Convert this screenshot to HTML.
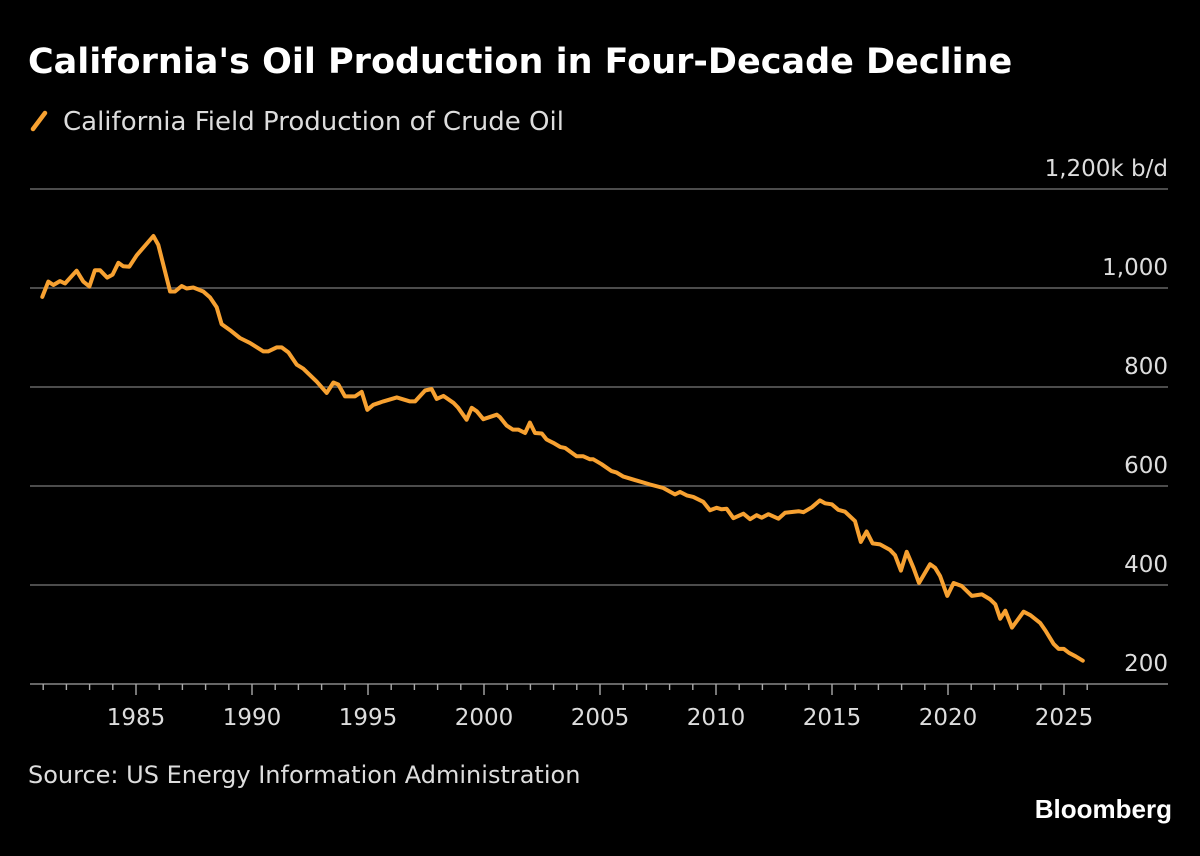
<!DOCTYPE html>
<html><head><meta charset="utf-8">
<style>
html,body{margin:0;padding:0;background:#000;}
body{width:1200px;height:851px;overflow:hidden;font-family:"Liberation Sans","DejaVu Sans",sans-serif;}
svg text{font-family:"DejaVu Sans","Liberation Sans",sans-serif;}
</style></head>
<body>
<svg id="chart" width="1200" height="851" viewBox="0 0 1200 851" xmlns="http://www.w3.org/2000/svg">
  <text x="28" y="73" fill="#fff" font-size="35" font-weight="bold">California's Oil Production in Four-Decade Decline</text>
  <g>
    <line x1="33" y1="129" x2="45" y2="113" stroke="#f7a131" stroke-width="4.5" stroke-linecap="round"/>
    <text x="63" y="130" fill="#ddd" font-size="26">California Field Production of Crude Oil</text>
  </g>
  <g id="grid"></g>
  <g id="xaxis"></g>
  <g id="series"></g>
  <text x="28" y="783" fill="#ddd" font-size="24">Source: US Energy Information Administration</text>
  <text x="1172" y="818" fill="#fff" font-size="26" font-weight="bold" text-anchor="end" style="font-family:'Liberation Sans',sans-serif">Bloomberg</text>
</svg>
<script>
const yTicks = [200, 400, 600, 800, 1000, 1200];
const yTickLabels = ["200", "400", "600", "800", "1,000", "1,200k b/d"];
const xMajorYears = [1985, 1990, 1995, 2000, 2005, 2010, 2015, 2020, 2025];
const years = [1980.96,1981.22,1981.44,1981.72,1981.94,1982.44,1982.73,1982.99,1983.23,1983.45,1983.76,1983.99,1984.24,1984.45,1984.71,1985.03,1985.75,1985.96,1986.47,1986.68,1986.97,1987.18,1987.47,1987.90,1988.19,1988.48,1988.69,1989.05,1989.48,1989.91,1990.49,1990.70,1991.06,1991.28,1991.57,1991.93,1992.21,1992.79,1993.22,1993.51,1993.72,1994.01,1994.44,1994.73,1994.97,1995.23,1995.66,1996.24,1996.81,1997.03,1997.46,1997.74,1997.96,1998.25,1998.68,1998.89,1999.25,1999.47,1999.69,1999.97,2000.55,2000.69,2000.98,2001.24,2001.48,2001.77,2001.98,2002.20,2002.49,2002.70,2002.99,2003.28,2003.49,2003.99,2004.28,2004.57,2004.71,2005.07,2005.50,2005.72,2006.01,2006.58,2007.16,2007.73,2008.23,2008.45,2008.74,2009.02,2009.45,2009.74,2010.03,2010.24,2010.46,2010.75,2011.18,2011.47,2011.75,2011.97,2012.26,2012.69,2012.98,2013.56,2013.77,2014.13,2014.48,2014.70,2014.99,2015.27,2015.56,2015.99,2016.24,2016.49,2016.75,2017.07,2017.50,2017.72,2017.97,2018.22,2018.51,2018.75,2019.23,2019.44,2019.66,2019.97,2020.24,2020.59,2021.03,2021.46,2021.82,2022.04,2022.25,2022.47,2022.76,2023.26,2023.55,2023.98,2024.20,2024.55,2024.77,2024.99,2025.21,2025.50,2025.81];
const production = [982,1013,1006,1014,1009,1035,1013,1003,1036,1036,1021,1027,1051,1044,1043,1066,1105,1087,993,993,1004,999,1001,993,981,961,927,915,899,889,872,872,880,880,870,845,837,811,788,809,805,781,781,790,754,764,771,779,771,771,793,796,776,782,768,758,734,758,751,735,744,739,722,714,714,707,728,707,706,694,687,679,677,660,660,654,654,644,630,627,619,611,603,596,583,588,581,578,568,551,556,553,554,535,544,533,541,536,543,534,546,549,547,557,571,565,563,552,548,529,487,508,484,482,471,460,429,467,435,404,442,435,418,378,404,398,378,381,371,361,332,348,314,346,339,323,308,281,271,271,263,256,247];

const NS = "http://www.w3.org/2000/svg";
function xScale(y){ return 832 + (y - 2015) * 23.2; }
function yScale(v){ return 684 - (v - 200) * 99 / 200; }
function mk(tag, attrs, parent){ const e=document.createElementNS(NS,tag); for(const k in attrs) e.setAttribute(k,attrs[k]); parent.appendChild(e); return e; }

const grid=document.getElementById('grid');
yTicks.forEach((t,i)=>{
  const y=yScale(t);
  if(i>0){
    const l=mk('line',{x1:30,x2:1168,y1:y,y2:y,stroke:'#666','stroke-width':1.6},grid);
    
    
  }
  const tx=mk('text',{x:1168,y:y-13,fill:'#ddd','font-size':23,'text-anchor':'end'},grid);
  tx.textContent=yTickLabels[i];
  
  
});

const xa=document.getElementById('xaxis');
const base=mk('line',{x1:30,x2:1168,y1:684,y2:684,stroke:'#888','stroke-width':1.6},xa);


for(let yr=1981; yr<=2026; yr++){
  const major = xMajorYears.indexOf(yr)>=0;
  const x=xScale(yr);
  const t=mk('line',{x1:x,x2:x,y1:684,y2:major?695:690,stroke:'#aaa','stroke-width':1.4},xa);
  
  
}
xMajorYears.forEach(yr=>{
  const t=mk('text',{x:xScale(yr),y:725,fill:'#ddd','font-size':23,'text-anchor':'middle'},xa);
  t.textContent=yr;
  
  
});

const s=document.getElementById('series');
const d=years.map((yr,i)=>(i?'L':'M')+xScale(yr).toFixed(1)+','+yScale(production[i]).toFixed(1)).join(' ');
const p=mk('path',{d:d,fill:'none',stroke:'#f7a131','stroke-width':4,'stroke-linejoin':'round','stroke-linecap':'round'},s);


</script>
</body></html>
